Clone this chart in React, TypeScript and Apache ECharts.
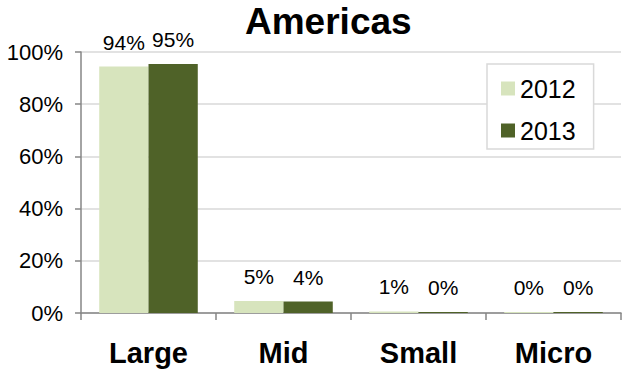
import React, { useEffect, useRef } from "react";
import * as echarts from "echarts";

const categories = ["Large", "Mid", "Small", "Micro"];
const seriesNames = ["2012", "2013"];
const values2012 = [94.4, 4.6, 0.6, 0.4];
const values2013 = [95.4, 4.4, 0.4, 0.4];
const yTicks = [0, 20, 40, 60, 80, 100];
const colors = ["#d7e4bd", "#4f6228"];

const FONT = "'Liberation Sans', Arial, sans-serif";

export default function App() {
  const ref = useRef<HTMLDivElement>(null);
  useEffect(() => {
    const chart = echarts.init(ref.current!, null, { renderer: "svg" });
    const labelCfg = {
      show: true,
      position: "top",
      distance: 14,
      fontFamily: FONT,
      fontSize: 21,
      color: "#000",
      formatter: (p: any) => Math.round(p.value) + "%",
    };
    chart.setOption({
      animation: false,
      title: {
        text: "Americas",
        left: 245,
        top: 3,
        padding: 0,
        textStyle: { fontFamily: FONT, fontSize: 37, fontWeight: "bold", color: "#000", lineHeight: 37 },
      },
      grid: { left: 81, right: 3, top: 52, bottom: 62, containLabel: false },
      legend: {
        orient: "vertical",
        left: 487,
        top: 64,
        padding: [12, 18, 6, 14],
        itemWidth: 14,
        itemHeight: 14,
        itemGap: 17,
        backgroundColor: "#fff",
        borderColor: "#d9d9d9",
        borderWidth: 1.5,
        icon: "rect",
        textStyle: { fontFamily: FONT, fontSize: 25, color: "#000", lineHeight: 24, padding: [0, 0, 0, 0] },
        data: seriesNames,
        z: 10,
      },
      xAxis: {
        type: "category",
        data: categories,
        axisLine: { lineStyle: { color: "#868686", width: 1.5 } },
        axisTick: { show: true, length: 7, lineStyle: { color: "#868686", width: 1.5 } },
        axisLabel: { margin: 25, fontFamily: FONT, fontSize: 29, fontWeight: "bold", color: "#000" },
      },
      yAxis: {
        type: "value",
        min: 0,
        max: 100,
        interval: 20,
        axisLine: { show: true, lineStyle: { color: "#868686", width: 1.5 } },
        axisTick: { show: true, length: 6, lineStyle: { color: "#868686", width: 1.5 } },
        splitLine: { show: true, lineStyle: { color: "#d9d9d9", width: 1.5 } },
        axisLabel: {
          margin: 18,
          fontFamily: FONT,
          fontSize: 22,
          color: "#000",
          formatter: (v: number) => (yTicks.includes(v) ? v + "%" : ""),
        },
      },
      series: [
        {
          name: seriesNames[0],
          type: "bar",
          data: values2012,
          itemStyle: { color: colors[0] },
          barGap: "0%",
          barCategoryGap: "27%",
          label: labelCfg,
        },
        {
          name: seriesNames[1],
          type: "bar",
          data: values2013,
          itemStyle: { color: colors[1] },
          barGap: "0%",
          barCategoryGap: "27%",
          label: labelCfg,
        },
      ],
    });
    return () => chart.dispose();
  }, []);
  return (
    <div
      ref={ref}
      style={{ width: 624, height: 375, position: "absolute", left: 0, top: 0 }}
    />
  );
}
